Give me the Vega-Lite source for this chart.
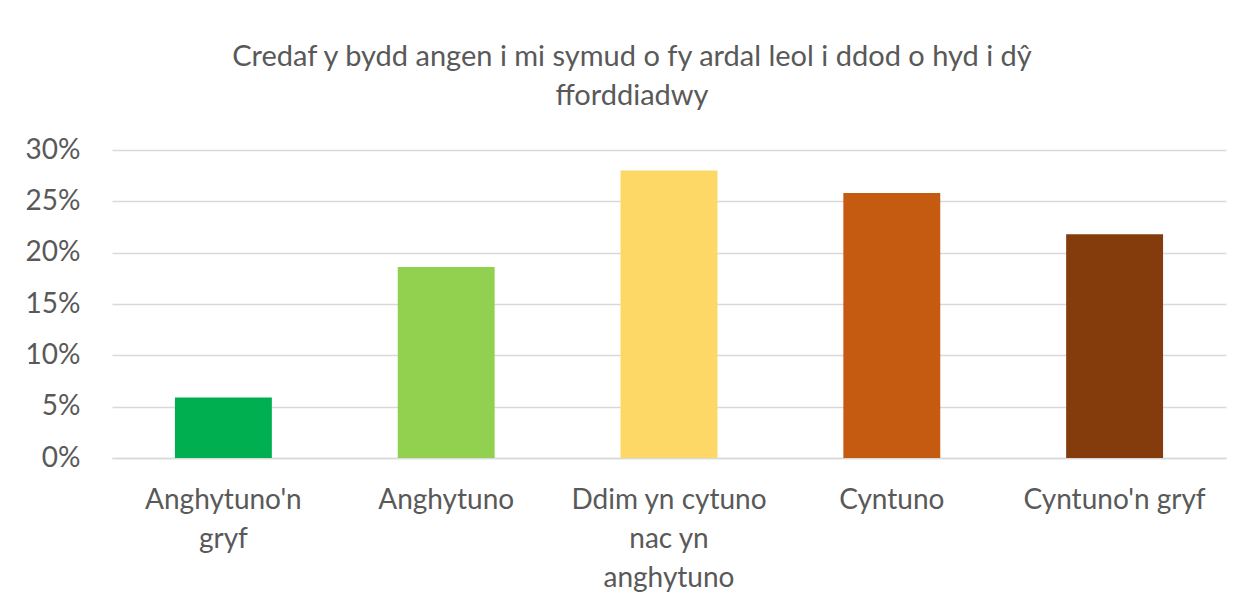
{
  "$schema": "https://vega.github.io/schema/vega-lite/v6.json",
  "autosize": "none",
  "width": 1114,
  "height": 308,
  "padding": {"left": 112, "top": 150, "right": 18, "bottom": 145},
  "background": "white",
  "title": {
    "text": ["Credaf y bydd angen i mi symud o fy ardal leol i ddod o hyd i dŷ", "fforddiadwy"],
    "font": "Lato",
    "fontSize": 29,
    "fontWeight": "normal",
    "color": "#595959",
    "anchor": "middle",
    "frame": "group",
    "dx": -37,
    "offset": 25,
    "lineHeight": 39
  },
  "data": {
    "values": [
      {"category": "Anghytuno'n gryf", "value": 0.059},
      {"category": "Anghytuno", "value": 0.186},
      {"category": "Ddim yn cytuno nac yn anghytuno", "value": 0.280},
      {"category": "Cyntuno", "value": 0.258},
      {"category": "Cyntuno'n gryf", "value": 0.218}
    ]
  },
  "mark": {"type": "bar"},
  "encoding": {
    "x": {
      "field": "category",
      "type": "nominal",
      "sort": null,
      "title": null,
      "scale": {"paddingInner": 0.565, "paddingOuter": 0.2825},
      "axis": {
        "labelAngle": 0,
        "labelFont": "Lato",
        "labelFontSize": 28,
        "labelColor": "#595959",
        "labelPadding": 28,
        "labelLineHeight": 39,
        "labelBaseline": "top",
        "labelLimit": 300,
        "ticks": false,
        "domain": true,
        "domainColor": "#D9D9D9",
        "domainWidth": 1.5,
        "labelExpr": "datum.value == \"Anghytuno'n gryf\" ? [\"Anghytuno'n\", \"gryf\"] : datum.value == 'Ddim yn cytuno nac yn anghytuno' ? ['Ddim yn cytuno', 'nac yn', 'anghytuno'] : datum.value"
      }
    },
    "y": {
      "field": "value",
      "type": "quantitative",
      "title": null,
      "scale": {"domain": [0, 0.3], "nice": false},
      "axis": {
        "format": ".0%",
        "values": [0, 0.05, 0.1, 0.15, 0.2, 0.25, 0.3],
        "labelFont": "Lato",
        "labelFontSize": 28,
        "labelColor": "#595959",
        "labelPadding": 32,
        "ticks": false,
        "domain": false,
        "grid": true,
        "gridColor": "#D9D9D9",
        "gridWidth": 1.5
      }
    },
    "color": {
      "field": "category",
      "type": "nominal",
      "sort": null,
      "legend": null,
      "scale": {
        "domain": ["Anghytuno'n gryf", "Anghytuno", "Ddim yn cytuno nac yn anghytuno", "Cyntuno", "Cyntuno'n gryf"],
        "range": ["#00B050", "#92D050", "#FDD866", "#C55A11", "#843C0C"]
      }
    }
  },
  "config": {"view": {"stroke": null}}
}
